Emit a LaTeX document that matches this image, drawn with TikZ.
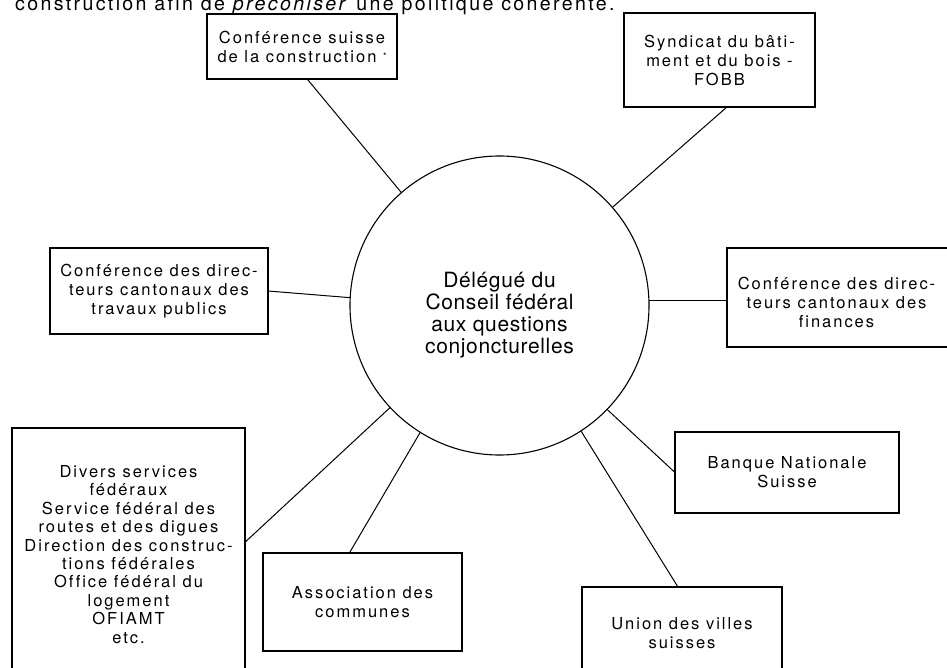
\documentclass[tikz,border=0pt]{standalone}
\usepackage{fontspec}
\setmainfont{TeX Gyre Heros}[LetterSpace=12, Ligatures=CommonOff]
\newfontfamily\circfont{TeX Gyre Heros}[LetterSpace=3, Ligatures=CommonOff]
\begin{document}
\begin{tikzpicture}[x=1pt,y=-1pt,
  boxnode/.style={draw, line width=1.3pt, rectangle, align=center, inner sep=0pt, outer sep=0pt,
    font=\fontsize{16.5}{19}\selectfont},
  boxtext/.style={align=center, inner sep=0pt, font=\fontsize{16.5}{19}\selectfont},
  link/.style={line width=1pt}]
\useasboundingbox (0,0) rectangle (947,668);
\fill[white] (0,0) rectangle (947,668);

\node[anchor=base west, inner sep=0pt, font=\fontsize{19.6}{24}\selectfont] (intro) at (15,10.5)
  {construction afin de \textit{préconiser} une politique cohérente.};

\node[circle, draw, line width=1.1pt, minimum size=299pt, inner sep=0pt, outer sep=0pt,
  label={[align=center, inner sep=0pt, font=\circfont\fontsize{21}{22}\selectfont, yshift=-9.5pt]center:Délégué du\\Conseil fédéral\\aux questions\\conjoncturelles}]
  (deleg) at (499.5,305.5) {};

\node[boxnode, minimum width=190pt, minimum height=65pt] (suisse) at (302,46.5)
  {Conférence suisse\\de la construction~\raisebox{3pt}{\fontsize{9}{9}\selectfont *}};
\node[boxnode, minimum width=191pt, minimum height=94pt] (fobb) at (719.5,60)
  {Syndicat du bâti-\\ment et du bois -\\FOBB};
\node[boxnode, minimum width=218pt, minimum height=86pt] (trav) at (159,291)
  {Conférence des direc-\\teurs cantonaux des\\travaux publics};
\node[boxnode, minimum width=253pt, minimum height=99pt,
  label={[boxtext, xshift=-17pt, yshift=-4.5pt]center:Conférence des direc-\\teurs cantonaux des\\finances}]
  (fin) at (853.5,297.5) {};
\node[boxnode, minimum width=233pt, minimum height=253pt, font=\fontsize{16.5}{18.4}\selectfont] (div) at (128.5,554.5)
  {Divers services\\fédéraux\\Service fédéral des\\routes et des digues\\Direction des construc-\\tions fédérales\\Office fédéral du\\logement\\OFIAMT\\etc.};
\node[boxnode, minimum width=199pt, minimum height=98pt] (assoc) at (362.5,602)
  {Association des\\communes};
\node[boxnode, minimum width=224pt, minimum height=81pt] (bns) at (787,472.5)
  {Banque Nationale\\Suisse};
\node[boxnode, minimum width=200pt, minimum height=92pt] (union) at (682,633)
  {Union des villes\\suisses};

\draw[link] (suisse.-81) -- (deleg.131);
\draw[link] (fobb.-81) -- (deleg.41);
\draw[link] (trav.east) -- (deleg.177);
\draw[link] (deleg.2) -- (deleg.2 -| fin.west);
\draw[link] (div.6) -- (deleg.-137);
\draw[link] (assoc.105) -- (deleg.-122);
\draw[link] (bns.west) -- (deleg.-44);
\draw[link] (union.95) -- (deleg.-57);
\end{tikzpicture}
\end{document}
